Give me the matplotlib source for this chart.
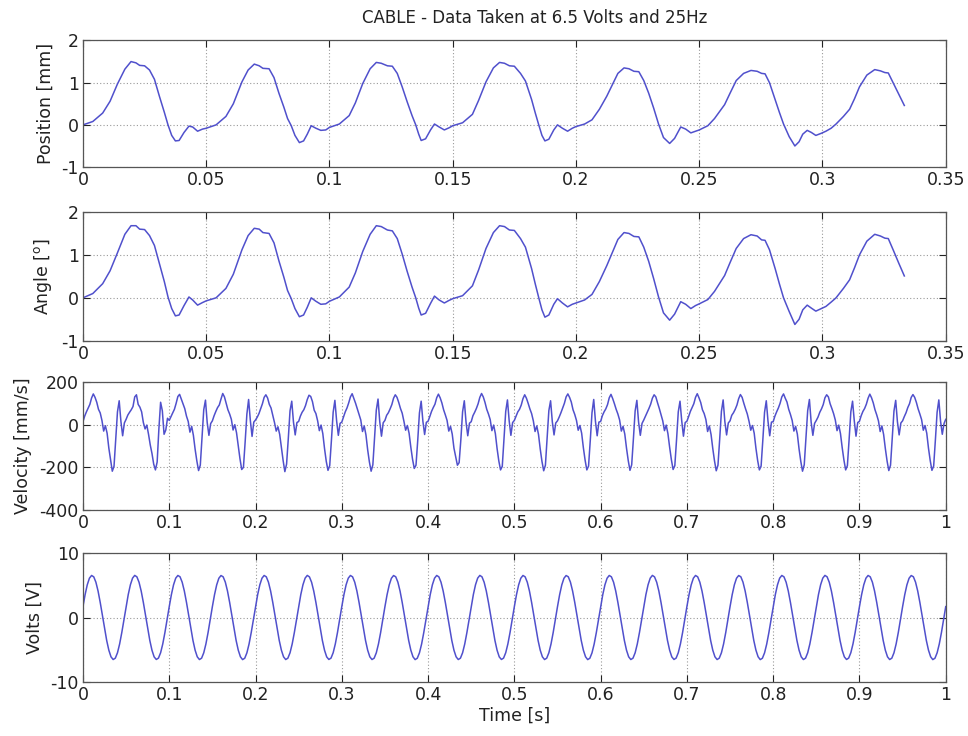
import numpy as np
import matplotlib
matplotlib.use("Agg")
import matplotlib.pyplot as plt

plt.rcParams['font.family'] = ['DejaVu Sans']

# ---------------- data ----------------
title_text = "CABLE - Data Taken at 6.5 Volts and 25Hz"

pos_t = [
    0.0, 0.004, 0.008, 0.011, 0.014, 0.017, 0.0195, 0.0215, 0.023, 0.025, 0.027, 0.029, 0.031, 0.033, 0.0345, 0.036, 0.0375, 0.039, 0.041, 0.043, 0.0445, 0.0465, 0.0485,
    0.05, 0.054, 0.058, 0.061, 0.0645, 0.067, 0.0695, 0.0715, 0.073, 0.0755, 0.0775, 0.0795, 0.0815, 0.083, 0.0845, 0.086, 0.0878, 0.0895, 0.091, 0.0926, 0.0945, 0.0965, 0.0985,
    0.1, 0.104, 0.108, 0.1105, 0.1135, 0.1165, 0.119, 0.121, 0.1235, 0.1255, 0.1275, 0.1295, 0.1315, 0.1335, 0.135, 0.1362, 0.1372, 0.139, 0.141, 0.1426, 0.1445, 0.1466, 0.1485,
    0.15, 0.154, 0.158, 0.1605, 0.1635, 0.1665, 0.169, 0.171, 0.173, 0.175, 0.1775, 0.1795, 0.182, 0.1835, 0.185, 0.1862, 0.1874, 0.189, 0.191, 0.1925, 0.1945, 0.1966, 0.1985,
    0.2, 0.2035, 0.2065, 0.2095, 0.2125, 0.2145, 0.217, 0.2195, 0.2215, 0.2235, 0.2255, 0.2275, 0.2295, 0.2315, 0.2335, 0.2355, 0.238, 0.240, 0.2425, 0.2445, 0.2466, 0.2485,
    0.25, 0.2535, 0.2562, 0.2603, 0.2625, 0.265, 0.268, 0.271, 0.2735, 0.2753, 0.2767, 0.2785, 0.2808, 0.2825, 0.2842, 0.2865, 0.2888, 0.2905, 0.292, 0.2938, 0.2955, 0.2973, 0.2995,
    0.3014, 0.3035, 0.3055, 0.3085, 0.311, 0.313, 0.315, 0.318, 0.3212, 0.3235, 0.3253, 0.3267, 0.3288, 0.331, 0.3332,
]

position_mm = [
    0.0, 0.08, 0.28, 0.56, 0.97, 1.32, 1.50, 1.47, 1.41, 1.40, 1.30, 1.08, 0.68, 0.30, 0.0, -0.25, -0.38, -0.37, -0.18, -0.03, -0.05, -0.15, -0.10,
    -0.08, 0.0, 0.2, 0.5, 1.02, 1.3, 1.44, 1.40, 1.34, 1.33, 1.12, 0.75, 0.42, 0.15, -0.02, -0.25, -0.42, -0.38, -0.22, -0.02, -0.08, -0.13, -0.12,
    -0.06, 0.02, 0.22, 0.52, 0.98, 1.33, 1.48, 1.46, 1.40, 1.39, 1.22, 0.90, 0.55, 0.22, 0.0, -0.22, -0.37, -0.33, -0.12, 0.02, -0.05, -0.12, -0.07,
    -0.02, 0.05, 0.25, 0.58, 1.02, 1.35, 1.48, 1.46, 1.40, 1.39, 1.22, 1.04, 0.60, 0.28, -0.02, -0.25, -0.38, -0.34, -0.12, 0.0, -0.08, -0.15, -0.08,
    -0.04, 0.02, 0.12, 0.37, 0.68, 0.92, 1.22, 1.35, 1.33, 1.27, 1.26, 1.05, 0.75, 0.40, 0.02, -0.30, -0.44, -0.32, -0.05, -0.10, -0.19, -0.15,
    -0.12, -0.02, 0.15, 0.48, 0.75, 1.05, 1.22, 1.29, 1.27, 1.22, 1.21, 1.0, 0.6, 0.3, 0.02, -0.28, -0.5, -0.4, -0.22, -0.13, -0.18, -0.25, -0.2,
    -0.15, -0.08, 0.02, 0.2, 0.37, 0.62, 0.9, 1.18, 1.31, 1.28, 1.24, 1.23, 0.98, 0.72, 0.46,
]

angle_deg = [
    0.0, 0.1, 0.33, 0.63, 1.05, 1.48, 1.68, 1.68, 1.60, 1.59, 1.45, 1.22, 0.80, 0.38, 0.02, -0.25, -0.42, -0.40, -0.18, 0.02, -0.05, -0.17, -0.11,
    -0.07, 0.0, 0.22, 0.55, 1.12, 1.45, 1.62, 1.60, 1.52, 1.50, 1.28, 0.86, 0.48, 0.17, -0.02, -0.25, -0.44, -0.40, -0.22, 0.0, -0.08, -0.15, -0.14,
    -0.08, 0.02, 0.25, 0.58, 1.08, 1.48, 1.68, 1.66, 1.58, 1.56, 1.38, 1.02, 0.62, 0.25, 0.0, -0.24, -0.40, -0.36, -0.13, 0.04, -0.05, -0.12, -0.06,
    -0.02, 0.05, 0.28, 0.65, 1.15, 1.52, 1.68, 1.66, 1.58, 1.57, 1.38, 1.18, 0.68, 0.32, -0.02, -0.28, -0.45, -0.40, -0.15, -0.02, -0.12, -0.21, -0.15,
    -0.12, -0.05, 0.08, 0.38, 0.75, 1.02, 1.36, 1.52, 1.50, 1.43, 1.42, 1.18, 0.85, 0.45, 0.02, -0.35, -0.52, -0.38, -0.09, -0.15, -0.25, -0.18,
    -0.14, -0.04, 0.15, 0.52, 0.82, 1.15, 1.38, 1.47, 1.44, 1.35, 1.34, 1.12, 0.68, 0.33, 0.0, -0.32, -0.62, -0.50, -0.28, -0.17, -0.24, -0.31, -0.25,
    -0.2, -0.1, 0.0, 0.22, 0.42, 0.7, 1.0, 1.32, 1.48, 1.44, 1.39, 1.38, 1.1, 0.8, 0.51,
]

vel_dt = 0.002  # sampling interval of velocity record [s]
velocity_mms = [
    14, 40, 60, 77, 95, 125, 144, 128, 105, 72, 55, 20, -30, -5, -40, -110, -165, -218, -195, -70, 60, 112, 15, -52, 8,
    25, 45, 58, 70, 85, 130, 140, 95, 82, 60, 10, -20, -2, -45, -95, -135, -185, -212, -175, -20, 105, 65, -45, -25, 30,
    20, 38, 55, 72, 100, 132, 142, 120, 98, 75, 40, 15, -35, -8, -50, -115, -170, -215, -190, -60, 70, 115, 10, -50, 5,
    18, 42, 62, 80, 92, 120, 146, 130, 100, 70, 50, 25, -25, 0, -38, -100, -160, -210, -200, -80, 50, 118, 20, -55, 12,
    22, 35, 52, 75, 98, 128, 140, 125, 95, 78, 45, 10, -30, -10, -45, -108, -168, -220, -185, -65, 65, 110, 12, -48, 10,
    15, 40, 58, 70, 90, 118, 138, 132, 108, 68, 52, 18, -28, -2, -42, -112, -172, -214, -192, -72, 58, 114, 18, -50, 6,
    12, 36, 60, 78, 102, 130, 145, 122, 100, 74, 48, 22, -32, -6, -48, -118, -175, -218, -188, -62, 68, 120, 14, -54, 9,
    20, 44, 56, 74, 94, 124, 140, 128, 104, 76, 54, 16, -26, -4, -40, -105, -162, -205, -190, -75, 55, 110, 16, -46, 11,
    16, 38, 62, 80, 96, 126, 143, 126, 102, 70, 46, 20, -30, -8, -44, -110, -150, -190, -178, -70, 60, 112, 12, -52, 7,
    14, 42, 58, 76, 98, 128, 146, 130, 104, 72, 50, 24, -28, -2, -42, -112, -170, -212, -195, -68, 62, 116, 18, -50, 10,
    20, 40, 60, 72, 92, 122, 140, 124, 100, 74, 52, 18, -32, -6, -46, -114, -172, -216, -190, -64, 66, 112, 14, -48, 8,
    18, 36, 56, 78, 100, 130, 144, 128, 106, 70, 48, 20, -26, -4, -40, -108, -166, -212, -194, -74, 56, 118, 16, -52, 12,
    15, 42, 60, 74, 94, 126, 142, 122, 98, 72, 50, 22, -30, -8, -44, -110, -168, -214, -188, -66, 64, 114, 12, -50, 6,
    22, 40, 58, 76, 96, 124, 140, 130, 102, 76, 46, 18, -28, -2, -42, -106, -164, -210, -192, -70, 60, 110, 18, -54, 10,
    16, 38, 62, 80, 98, 128, 145, 126, 104, 70, 52, 24, -32, -6, -46, -112, -170, -216, -190, -68, 62, 116, 14, -48, 8,
    18, 44, 56, 72, 92, 122, 141, 128, 100, 74, 50, 16, -26, -4, -40, -110, -168, -212, -194, -72, 58, 112, 16, -52, 12,
    14, 40, 60, 78, 100, 130, 144, 124, 106, 72, 48, 20, -30, -8, -44, -114, -172, -218, -188, -64, 66, 118, 12, -50, 6,
    20, 36, 58, 74, 94, 126, 140, 130, 98, 76, 52, 22, -28, -2, -42, -108, -166, -212, -192, -70, 60, 110, 18, -54, 10,
    16, 42, 62, 76, 96, 124, 143, 126, 102, 70, 46, 18, -32, -6, -46, -112, -170, -215, -190, -66, 64, 114, 14, -48, 8,
    18, 38, 56, 80, 98, 128, 141, 128, 104, 74, 50, 24, -26, -4, -40, -110, -168, -214, -194, -72, 58, 116, 16, -45, 5,
    25,
]

volt_dt = 0.0025  # sampling interval of voltage record [s]
volts_v = [
    1.68, 3.54, 5.05, 6.07, 6.49, 6.28, 5.45, 4.09, 2.33, 0.34, -1.68, -3.54, -5.05, -6.07, -6.49, -6.28, -5.45, -4.09, -2.33, -0.34,
    1.68, 3.55, 5.06, 6.08, 6.50, 6.28, 5.44, 4.08, 2.32, 0.33, -1.69, -3.55, -5.06, -6.08, -6.48, -6.27, -5.44, -4.08, -2.32, -0.33,
    1.67, 3.54, 5.05, 6.07, 6.49, 6.29, 5.45, 4.09, 2.33, 0.34, -1.68, -3.54, -5.05, -6.07, -6.49, -6.28, -5.45, -4.09, -2.33, -0.34,
    1.68, 3.53, 5.04, 6.06, 6.48, 6.28, 5.46, 4.10, 2.34, 0.35, -1.67, -3.53, -5.04, -6.06, -6.50, -6.29, -5.46, -4.10, -2.34, -0.35,
    1.68, 3.54, 5.05, 6.07, 6.49, 6.28, 5.45, 4.09, 2.33, 0.34, -1.68, -3.54, -5.05, -6.07, -6.49, -6.28, -5.45, -4.09, -2.33, -0.34,
    1.69, 3.55, 5.06, 6.08, 6.50, 6.27, 5.44, 4.08, 2.32, 0.33, -1.69, -3.55, -5.06, -6.08, -6.48, -6.27, -5.44, -4.08, -2.32, -0.33,
    1.68, 3.54, 5.05, 6.07, 6.49, 6.28, 5.45, 4.09, 2.33, 0.34, -1.68, -3.54, -5.05, -6.07, -6.49, -6.28, -5.45, -4.09, -2.33, -0.34,
    1.67, 3.53, 5.04, 6.06, 6.48, 6.29, 5.46, 4.10, 2.34, 0.35, -1.67, -3.53, -5.04, -6.06, -6.50, -6.29, -5.46, -4.10, -2.34, -0.35,
    1.68, 3.54, 5.05, 6.07, 6.49, 6.28, 5.45, 4.09, 2.33, 0.34, -1.68, -3.54, -5.05, -6.07, -6.49, -6.28, -5.45, -4.09, -2.33, -0.34,
    1.68, 3.55, 5.06, 6.08, 6.50, 6.28, 5.44, 4.08, 2.32, 0.33, -1.69, -3.55, -5.06, -6.08, -6.48, -6.27, -5.44, -4.08, -2.32, -0.33,
    1.68, 3.54, 5.05, 6.07, 6.49, 6.28, 5.45, 4.09, 2.33, 0.34, -1.68, -3.54, -5.05, -6.07, -6.49, -6.28, -5.45, -4.09, -2.33, -0.34,
    1.67, 3.53, 5.04, 6.06, 6.48, 6.29, 5.46, 4.10, 2.34, 0.35, -1.67, -3.53, -5.04, -6.06, -6.50, -6.29, -5.46, -4.10, -2.34, -0.35,
    1.68, 3.54, 5.05, 6.07, 6.49, 6.28, 5.45, 4.09, 2.33, 0.34, -1.68, -3.54, -5.05, -6.07, -6.49, -6.28, -5.45, -4.09, -2.33, -0.34,
    1.69, 3.55, 5.06, 6.08, 6.50, 6.27, 5.44, 4.08, 2.32, 0.33, -1.69, -3.55, -5.06, -6.08, -6.48, -6.27, -5.44, -4.08, -2.32, -0.33,
    1.68, 3.54, 5.05, 6.07, 6.49, 6.28, 5.45, 4.09, 2.33, 0.34, -1.68, -3.54, -5.05, -6.07, -6.49, -6.28, -5.45, -4.09, -2.33, -0.34,
    1.67, 3.53, 5.04, 6.06, 6.48, 6.29, 5.46, 4.10, 2.34, 0.35, -1.67, -3.53, -5.04, -6.06, -6.50, -6.29, -5.46, -4.10, -2.34, -0.35,
    1.68, 3.54, 5.05, 6.07, 6.49, 6.28, 5.45, 4.09, 2.33, 0.34, -1.68, -3.54, -5.05, -6.07, -6.49, -6.28, -5.45, -4.09, -2.33, -0.34,
    1.68, 3.55, 5.06, 6.08, 6.50, 6.28, 5.44, 4.08, 2.32, 0.33, -1.69, -3.55, -5.06, -6.08, -6.48, -6.27, -5.44, -4.08, -2.32, -0.33,
    1.68, 3.54, 5.05, 6.07, 6.49, 6.28, 5.45, 4.09, 2.33, 0.34, -1.68, -3.54, -5.05, -6.07, -6.49, -6.28, -5.45, -4.09, -2.33, -0.34,
    1.67, 3.53, 5.04, 6.06, 6.48, 6.29, 5.46, 4.10, 2.34, 0.35, -1.67, -3.53, -5.04, -6.06, -6.50, -6.29, -5.46, -4.10, -2.34, -0.35,
    1.68,
]

short_xticks = [0, 0.05, 0.1, 0.15, 0.2, 0.25, 0.3, 0.35]
short_xlabels = ['0', '0.05', '0.1', '0.15', '0.2', '0.25', '0.3', '0.35']
long_xticks = [0, 0.1, 0.2, 0.3, 0.4, 0.5, 0.6, 0.7, 0.8, 0.9, 1.0]
long_xlabels = ['0', '0.1', '0.2', '0.3', '0.4', '0.5', '0.6', '0.7', '0.8', '0.9', '1']
pos_yticks = [-1, 0, 1, 2]
ang_yticks = [-1, 0, 1, 2]
vel_yticks = [-400, -200, 0, 200]
volt_yticks = [-10, 0, 10]

ylabels = ['Position [mm]', 'Angle [$^\\mathrm{o}$]', 'Velocity [mm/s]', 'Volts [V]']

# ---------------- drawing ----------------
vel_t = np.arange(len(velocity_mms)) * vel_dt
volt_t = np.arange(len(volts_v)) * volt_dt

line_color = '#5050cc'
FS_TICK = 12.5
FS_LAB = 12.5
FS_TITLE = 12

fig = plt.figure(figsize=(9.68, 7.36), dpi=100)
left, width = 0.0857, 0.8913
rects = [
    [left, 0.773, width, 0.172],
    [left, 0.537, width, 0.175],
    [left, 0.307, width, 0.174],
    [left, 0.073, width, 0.176],
]
axes = [fig.add_axes(r) for r in rects]

series = [
    (pos_t, position_mm, short_xticks, short_xlabels, (0, 0.35), pos_yticks, (-1, 2)),
    (pos_t, angle_deg, short_xticks, short_xlabels, (0, 0.35), ang_yticks, (-1, 2)),
    (vel_t, velocity_mms, long_xticks, long_xlabels, (0, 1), vel_yticks, (-400, 200)),
    (volt_t, volts_v, long_xticks, long_xlabels, (0, 1), volt_yticks, (-10, 10)),
]

for ax, (x, y, xt, xl, xlim, yt, ylim), lab in zip(axes, series, ylabels):
    ax.plot(x, y, color=line_color, lw=1.1)
    ax.set_xlim(*xlim)
    ax.set_ylim(*ylim)
    ax.set_xticks(xt)
    ax.set_xticklabels(xl)
    ax.set_yticks(yt)
    ax.set_yticklabels([str(v) for v in yt])
    ax.grid(True, linestyle=(0, (1, 2)), color='#999999', linewidth=0.8)
    ax.tick_params(direction='in', top=True, right=True, length=5, width=0.8,
                   labelsize=FS_TICK, colors='#222222', pad=3)
    for s in ax.spines.values():
        s.set_color('#555555')
        s.set_linewidth(0.9)
    ax.set_ylabel(lab, fontsize=FS_LAB, color='#222222', labelpad=5)

axes[3].set_xlabel('Time [s]', fontsize=FS_LAB, color='#222222', labelpad=2)
fig.text(0.5527, 0.976, title_text, ha='center', va='center', fontsize=FS_TITLE, color='#222222')

fig.savefig('out.png', dpi=100)
